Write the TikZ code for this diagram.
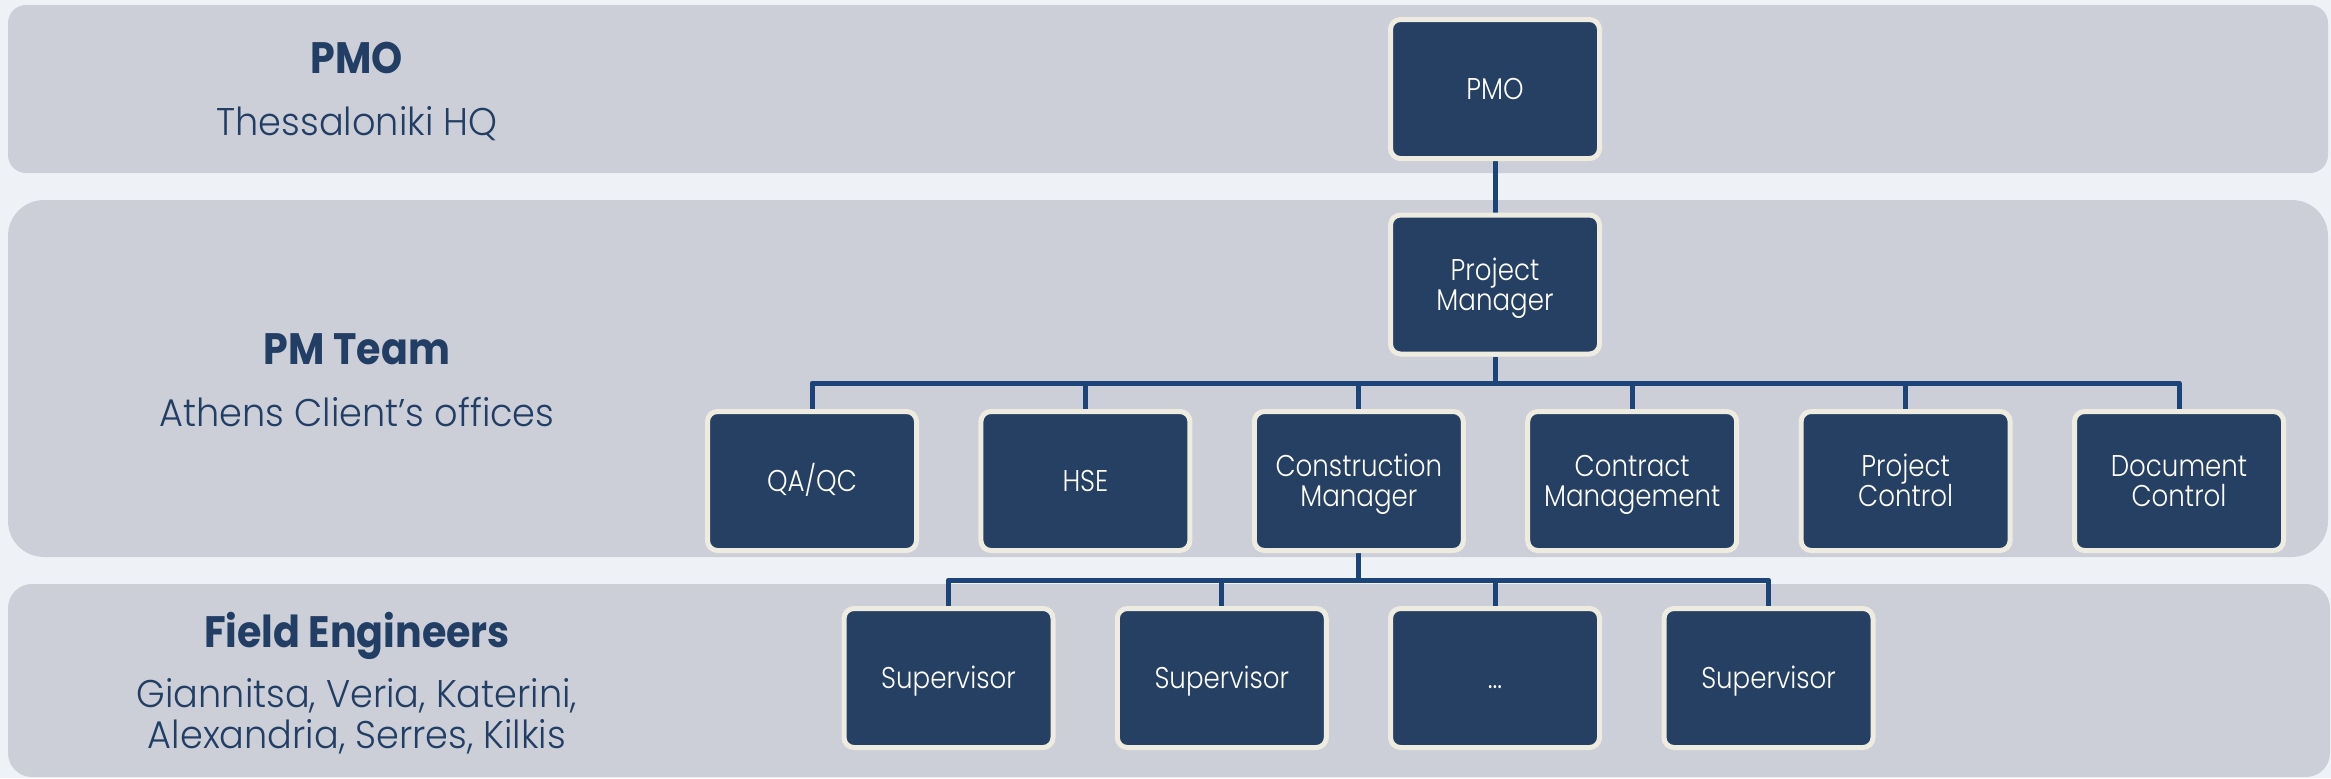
\documentclass[tikz,border=0pt]{standalone}
\usepackage{fontspec}
\setmainfont{Poppins}[FakeStretch=0.92]
\IfFontExistsTF{Poppins Light}{%
  \newfontfamily\lightfont{Poppins Light}[FakeStretch=0.95]%
  \newfontfamily\nodefont{Poppins Light}[FakeStretch=0.87]}{%
  \newfontfamily\lightfont{Poppins}[FakeStretch=0.95]%
  \newfontfamily\nodefont{Poppins}[FakeStretch=0.87]}
\newfontfamily\boldfont{Poppins}[FakeStretch=0.9,UprightFont=*,BoldFont=* Bold]
\pgfdeclarelayer{bands}
\pgfdeclarelayer{links}
\pgfsetlayers{bands,links,main}
\definecolor{bgc}{RGB}{238,242,246}
\definecolor{bandc}{RGB}{204,207,216}
\definecolor{navy}{RGB}{38,64,99}
\definecolor{cream}{RGB}{238,235,225}
\definecolor{linec}{RGB}{28,68,120}
\definecolor{titlec}{RGB}{35,62,100}
\begin{document}
\begin{tikzpicture}[x=0.5pt,y=-0.5pt,
  box/.style={draw=cream, line width=2.5pt, fill=navy, rounded corners=5pt,
    minimum width=104.5pt, minimum height=69.5pt, inner sep=0pt, text=white!95!cream,
    align=center, font=\nodefont\fontsize{15}{15}\selectfont},
  one/.style={text height=10.5pt, text depth=0pt},
  two/.style={text height=25.5pt, text depth=0pt},
  conn/.style={draw=linec, line width=2.5pt, line join=round},
  band/.style={fill=bandc},
  ttl/.style={anchor=base, text=titlec, inner sep=0pt, font=\boldfont\bfseries\fontsize{22}{22}\selectfont},
  sub/.style={anchor=base, text=titlec, inner sep=0pt, font=\lightfont\fontsize{19.3}{19.3}\selectfont}]
\useasboundingbox (0,0) rectangle (2331,778);
\begin{pgfonlayer}{bands}
\fill[bgc] (0,0) rectangle (2331,778);
\fill[band, rounded corners=9pt] (8,5) rectangle (2328,173);
\fill[band, rounded corners=18pt] (8,200) rectangle (2328,557);
\fill[band, rounded corners=12pt] (8,584) rectangle (2330,777);
\end{pgfonlayer}

% left titles
\node[ttl] (t1) at (357,73) {PMO};
\node[sub] (s1) at (357,135) {Thessaloniki HQ};
\node[ttl] (t2) at (357,364) {PM Team};
\node[sub] (s2) at (357,426) {Athens Client’s offices};
\node[ttl] (t3) at (357,647) {Field Engineers};
\node[sub] (s3a) at (357,707) {Giannitsa, Veria, Katerini,};
\node[sub] (s3b) at (357,748) {Alexandria, Serres, Kilkis};

% boxes
\node[box,one] (pmo) at (1495,89) {PMO};
\node[box,two] (pm) at (1495,284.5) {Project\\Manager};
\node[box,one] (qa) at (812,481) {QA/QC};
\node[box,one] (hse) at (1085.4,481) {HSE};
\node[box,two] (cm) at (1358.8,481) {Construction\\Manager};
\node[box,two] (ctm) at (1632.2,481) {Contract\\Management};
\node[box,two] (pc) at (1905.6,481) {Project\\Control};
\node[box,two] (dc) at (2179,481) {Document\\Control};
\node[box,one] (sp1) at (948.5,678) {Supervisor};
\node[box,one] (sp2) at (1221.8,678) {Supervisor};
\node[box,one] (sp3) at (1495,678) {...};
\node[box,one] (sp4) at (1768.5,678) {Supervisor};

\coordinate (bar1) at (1495,383);
\coordinate (bar2) at (1358.8,580);
\begin{pgfonlayer}{links}
\draw[conn] (pmo.south) -- (pm.north);
\draw[conn] (pm.south) -- (bar1);
\draw[conn] (qa.north) -- (qa.north |- bar1) -- (dc.north |- bar1) -- (dc.north);
\draw[conn] (hse.north) -- (hse.north |- bar1);
\draw[conn] (cm.north) -- (cm.north |- bar1);
\draw[conn] (ctm.north) -- (ctm.north |- bar1);
\draw[conn] (pc.north) -- (pc.north |- bar1);
\draw[conn] (cm.south) -- (bar2);
\draw[conn] (sp1.north) -- (sp1.north |- bar2) -- (sp4.north |- bar2) -- (sp4.north);
\draw[conn] (sp2.north) -- (sp2.north |- bar2);
\draw[conn] (sp3.north) -- (sp3.north |- bar2);
\end{pgfonlayer}
\end{tikzpicture}
\end{document}
